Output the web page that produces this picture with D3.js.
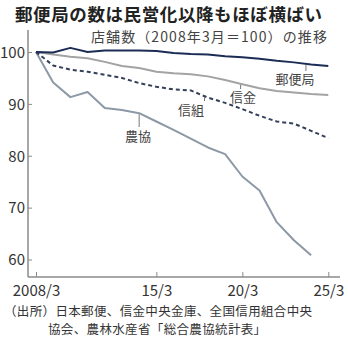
<!DOCTYPE html>
<html><head><meta charset="utf-8">
<script src="https://cdn.jsdelivr.net/npm/d3@7"></script>
<style>body{margin:0;background:#fff}svg{display:block}text{font-family:"Noto Sans CJK JP","Noto Sans",sans-serif}</style>
</head><body><svg id="c" width="348" height="340"></svg>
<script>
const years = [2008,2009,2010,2011,2012,2013,2014,2015,2016,2017,2018,2019,2020,2021,2022,2023,2024,2025];
const yubin = [100,99.9,100.8,100,100.3,100.3,100.3,100.2,99.8,99.6,99.5,99.2,99,98.7,98.3,98,97.6,97.3];
const shinkin = [100,99.5,99.1,98.8,98.1,97.3,96.9,96.2,95.9,95.7,95.3,94.6,93.8,93.0,92.5,92.2,91.9,91.7];
const shinkumi = [100,97.4,96.6,96.2,95.6,95.0,94.0,93.3,92.8,92.6,91.2,90.2,89.0,87.7,86.6,86.2,84.8,83.4];
const nokyo = [100,94.1,91.3,92.3,89.2,88.8,88.2,86.6,85.0,83.3,81.6,80.3,76.0,73.3,67.2,63.7,60.8];
const yTicks = [60,70,80,90,100];
const xTicks = [2008,2015,2020,2025];
const xTickLabels = ["2008/3","15/3","20/3","25/3"];
const title = "郵便局の数は民営化以降もほぼ横ばい";
const subtitle = "店舗数（2008年3月＝100）の推移";
const source = ["（出所）日本郵便、信金中央金庫、全国信用組合中央","協会、農林水産省「総合農協統計表」"];

const svg = d3.select("#c");
const x = d3.scaleLinear().domain([2008,2025]).range([36,328.3]);
const y = d3.scaleLinear().domain([60,100]).range([259.5,52]);
const axisColor = "#8a8a8a";
const numFont = "'Liberation Sans Narrow','DejaVu Sans Condensed',sans-serif";

svg.append("text").attr("x",15).attr("y",20.6).attr("font-size",17.5).attr("letter-spacing",0.6).attr("font-weight","bold").attr("fill","#222").text(title);
svg.append("text").attr("x",328).attr("y",42).attr("text-anchor","end").attr("font-size",14).attr("letter-spacing",1.1).attr("fill","#444").text(subtitle);

// axes
const gy = svg.append("g").attr("transform","translate(28,0)")
  .call(d3.axisRight(y).tickValues(yTicks).tickSize(4).tickFormat(d3.format("d")));
gy.select(".domain").remove();
gy.selectAll(".tick line").attr("stroke",axisColor);
gy.selectAll(".tick text").attr("x",-3).attr("text-anchor","end").attr("font-size",15).attr("fill","#333").attr("font-family",numFont).attr("dy","0.35em");
svg.append("line").attr("x1",28).attr("x2",28).attr("y1",30).attr("y2",277).attr("stroke",axisColor).attr("stroke-width",1.5);

const gx = svg.append("g").attr("transform","translate(0,277)")
  .call(d3.axisTop(x).tickValues(xTicks).tickSize(5).tickFormat((d,i)=>xTickLabels[i]));
gx.select(".domain").remove();
gx.selectAll(".tick line").attr("stroke",axisColor);
gx.selectAll(".tick text").attr("y",19).attr("font-size",15).attr("fill","#333").attr("font-family",numFont);
svg.append("line").attr("x1",28).attr("x2",340).attr("y1",277).attr("y2",277).attr("stroke",axisColor).attr("stroke-width",1.5);

const line = d3.line().x((d,i)=>x(years[i])).y(d=>y(d));
function draw(data,color,dash){
  svg.append("path").datum(data).attr("d",line).attr("fill","none").attr("stroke",color)
    .attr("stroke-width",2).attr("stroke-dasharray",dash||null).attr("stroke-linejoin","round");
}
draw(shinkin,"#a3a3a3");
draw(nokyo,"#8d99a6");
draw(shinkumi,"#34405a","4,3");
draw(yubin,"#1c2d55");

// labels with leader lines
const labels = [
  {t:"郵便局", yr:2023.7, v:yubin, lx:295, ly:84, y2:71},
  {t:"信金", yr:2019.9, v:shinkin, lx:243, ly:102, y2:89},
  {t:"信組", yr:2017.8, v:shinkumi, lx:191, ly:115, y2:101},
  {t:"農協", yr:2014, v:nokyo, lx:138, ly:141, y2:127}
];
labels.forEach(l=>{
  const i = Math.floor(l.yr-2008), f = l.yr-2008-i;
  const val = l.v[i]*(1-f)+(l.v[i+1]||l.v[i])*f;
  svg.append("line").attr("x1",x(l.yr)).attr("x2",x(l.yr)).attr("y1",y(val)+1).attr("y2",l.y2).attr("stroke","#777").attr("stroke-width",1);
  svg.append("text").attr("x",l.lx).attr("y",l.ly).attr("text-anchor","middle").attr("font-size",13).attr("fill","#444").text(l.t);
});

source.forEach((s,i)=>{
  svg.append("text").attr("x", i===0?4:48).attr("y",315.5+i*18.5).attr("font-size",12.5).attr("letter-spacing",0.35).attr("fill","#333").text(s);
});
</script></body></html>
